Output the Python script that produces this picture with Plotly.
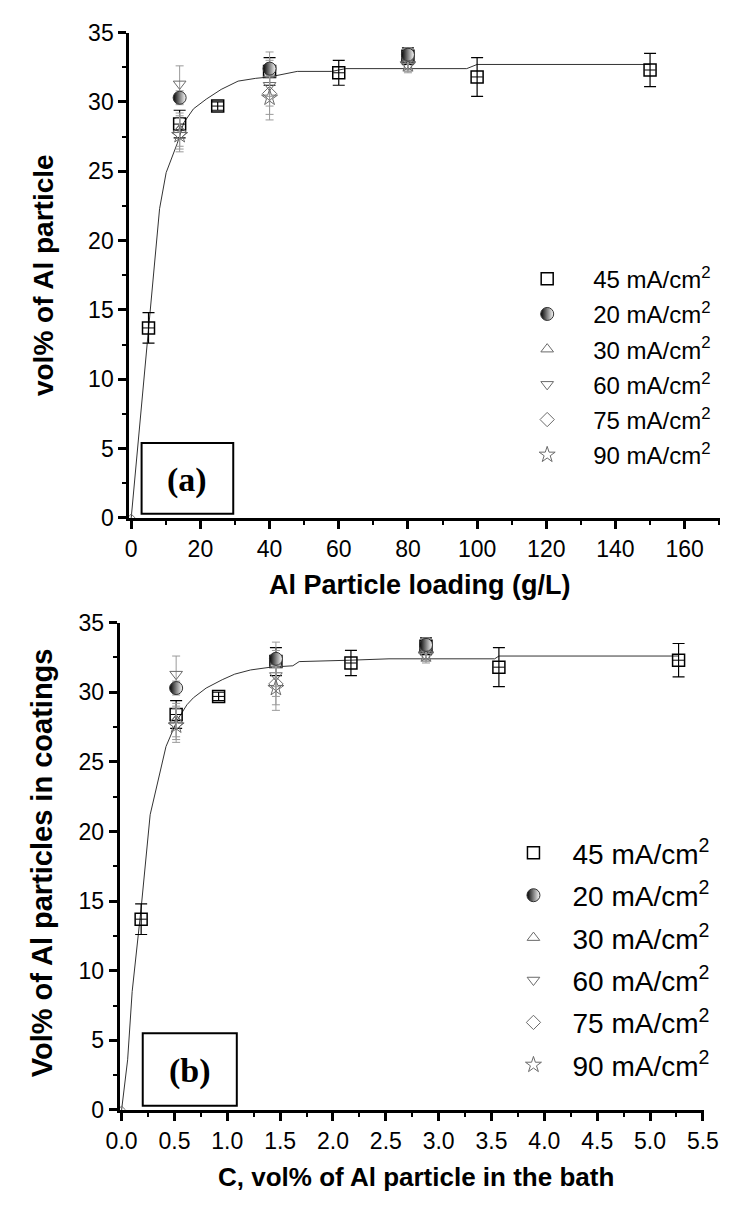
import plotly.graph_objects as go

# ---------------- data ----------------
loading_gl = [5, 14, 25, 40, 60, 80, 100, 150]             # g/L (panel a)
bath_vol = [0.185, 0.516, 0.918, 1.46, 2.17, 2.88, 3.57, 5.27]  # vol% (panel b)

y45 = [13.7, 28.4, 29.7, 32.2, 32.1, 33.3, 31.8, 32.3]
e45 = [1.1, 1.0, 0.3, 1.0, 0.9, 0.6, 1.4, 1.2]

sub_gl = [14, 40, 80]
sub_vol = [0.516, 1.46, 2.88]
y20 = [30.3, 32.4, 33.4]
e20 = [0.5, 0.6, 0.5]
y30 = [28.0, 32.0, 33.0]
e30 = [1.2, 1.6, 0.6]
y60 = [31.3, 31.2, 33.0]
e60 = [1.3, 1.5, 0.7]
y75 = [27.8, 30.6, 32.8]
e75 = [1.2, 1.5, 0.6]
y90 = [27.6, 30.3, 32.7]
e90 = [1.2, 1.6, 0.6]

fit_a_x = [0, 3.6, 5, 8.2, 10.1, 13.3, 15.2, 18, 21.7, 26, 30.9, 36, 40, 44, 48, 58, 62, 97, 100, 150]
fit_a_y = [0, 9.6, 13.5, 22.3, 24.9, 27.0, 28.5, 29.5, 30.2, 30.9, 31.5, 31.7, 31.8, 32.0, 32.2, 32.2, 32.4, 32.4, 32.7, 32.7]

fit_b_x = [0, 0.057, 0.1, 0.185, 0.27, 0.42, 0.527, 0.618, 0.679, 0.80, 0.952, 1.07, 1.22, 1.41, 1.62, 1.68, 2.16, 2.53, 3.53, 3.57, 5.27]
fit_b_y = [0, 3.6, 8.5, 14.5, 21.2, 26.1, 28.0, 29.1, 29.6, 30.3, 30.9, 31.3, 31.6, 31.8, 31.9, 32.2, 32.3, 32.4, 32.4, 32.6, 32.6]

origin_x = [0]
origin_y = [0]

series_names = ["45 mA/cm<sup>2</sup>", "20 mA/cm<sup>2</sup>", "30 mA/cm<sup>2</sup>",
                "60 mA/cm<sup>2</sup>", "75 mA/cm<sup>2</sup>", "90 mA/cm<sup>2</sup>"]

GRAY = "#6a6a6a"

fig = go.Figure()

def add_panel(xa, ya, legend, x45, xsub, fitx, fity, zero_x, tag):
    fig.add_trace(go.Scatter(x=fitx, y=fity, mode="lines", line=dict(color="#333", width=1),
                             xaxis=xa, yaxis=ya, showlegend=False, hoverinfo="skip"))
    fig.add_trace(go.Scatter(x=zero_x, y=origin_y, mode="markers",
                             marker=dict(symbol="diamond-open", size=6, color=GRAY, line=dict(width=1)),
                             xaxis=xa, yaxis=ya, showlegend=False))
    specs = [
        (y30, e30, dict(symbol="triangle-up-open", size=11, color=GRAY, line=dict(width=1, color=GRAY))),
        (y60, e60, dict(symbol="triangle-down-open", size=11, color=GRAY, line=dict(width=1, color=GRAY))),
        (y75, e75, dict(symbol="diamond-open", size=11, color=GRAY, line=dict(width=1, color=GRAY))),
        (y90, e90, dict(symbol="star-open", size=12, color=GRAY, line=dict(width=1, color=GRAY))),
    ]
    fig.add_trace(go.Scatter(x=x45, y=y45, mode="markers", name=series_names[0], legend=legend,
                             legendrank=1, legendgroup=tag + "45",
                             error_y=dict(type="data", array=e45, color="black", thickness=1.2, width=6),
                             marker=dict(symbol="square-open", size=12, color="black", line=dict(width=1.5)),
                             xaxis=xa, yaxis=ya))
    fig.add_trace(go.Scatter(x=x45, y=y45, mode="markers", showlegend=False,
                             marker=dict(symbol="line-ew", size=8, color="black", line=dict(width=1, color="black")),
                             xaxis=xa, yaxis=ya))
    for i, (yy, ee, mk) in enumerate(specs):
        fig.add_trace(go.Scatter(x=xsub, y=yy, mode="markers", name=series_names[i + 2], legend=legend,
                                 legendrank=i + 3, legendgroup=tag + str(i),
                                 error_y=dict(type="data", array=ee, color="#9a9a9a", thickness=1, width=4),
                                 marker=mk, xaxis=xa, yaxis=ya))
    fig.add_trace(go.Scatter(x=xsub, y=y20, mode="markers", name=series_names[1], legend=legend,
                             legendrank=2, legendgroup=tag + "20",
                             error_y=dict(type="data", array=e20, color="#9a9a9a", thickness=1, width=4),
                             marker=dict(symbol="circle", size=13, color="black",
                                         gradient=dict(type="horizontal", color="white"),
                                         line=dict(width=1, color="#333")),
                             xaxis=xa, yaxis=ya))

add_panel("x", "y", "legend", loading_gl, sub_gl, fit_a_x, fit_a_y, origin_x, "a")
add_panel("x2", "y2", "legend2", bath_vol, sub_vol, fit_b_x, fit_b_y, origin_x, "b")

W, H = 742, 1211
def px(v): return v / W
def py(v): return 1 - v / H

tickfont = dict(family="Liberation Sans, Arial", size=23, color="black")
axis_common = dict(showline=True, linecolor="black", linewidth=3, ticks="outside", ticklen=8,
                   tickwidth=3, tickcolor="black", showgrid=False, zeroline=False, tickfont=tickfont,
                   mirror=False)
minor_common = dict(ticks="outside", ticklen=4, tickwidth=2, tickcolor="black")

fig.update_layout(
    width=W, height=H, margin=dict(l=0, r=0, t=0, b=0),
    paper_bgcolor="white", plot_bgcolor="white",
    xaxis=dict(domain=[px(120), px(735)], range=[-0.55, 170.3], anchor="y", tickvals=list(range(0, 161, 20)),
               minor=dict(tickvals=list(range(10, 171, 20)), **minor_common), **axis_common),
    yaxis=dict(domain=[py(516), py(20)], range=[0, 35], anchor="x", tickvals=list(range(0, 36, 5)),
               minor=dict(tickvals=[2.5 + 5 * k for k in range(7)], **minor_common), **axis_common),
    xaxis2=dict(domain=[px(110), px(718)], range=[-0.018, 5.51], anchor="y2",
                tickvals=[0.5 * k for k in range(12)], ticktext=[f"{0.5*k:.1f}" for k in range(12)],
                minor=dict(tickvals=[0.25 + 0.5 * k for k in range(11)], **minor_common), **axis_common),
    yaxis2=dict(domain=[py(1121), py(623)], range=[0, 35], anchor="x2", tickvals=list(range(0, 36, 5)),
                minor=dict(tickvals=[2.5 + 5 * k for k in range(7)], **minor_common), **axis_common),
    legend=dict(x=px(507), y=py(249), xanchor="left", yanchor="top", bgcolor="rgba(0,0,0,0)",
                font=dict(family="Liberation Sans, Arial", size=24, color="black"),
                itemwidth=82, tracegroupgap=1, traceorder="grouped"),
    legend2=dict(x=px(500), y=py(833), xanchor="left", yanchor="top", bgcolor="rgba(0,0,0,0)",
                 font=dict(family="Liberation Sans, Arial", size=28, color="black"),
                 itemwidth=68, tracegroupgap=3, traceorder="grouped"),
    showlegend=True,
)

def title(text, x, y, size, angle=0):
    fig.add_annotation(text="<b>" + text + "</b>", x=px(x), y=py(y), xref="paper", yref="paper",
                       xanchor="center", yanchor="middle", showarrow=False, textangle=angle,
                       font=dict(family="Liberation Sans, Arial", size=size, color="black"))

title("Al Particle loading (g/L)", 422, 585, 27)
title("vol% of Al particle", 30, 268, 28, -90)
title("C, vol% of Al particle in the bath", 418, 1190, 26)
title("Vol% of Al particles in coatings", 30, 868, 29, -90)

# panel label boxes
fig.add_shape(type="rect", xref="x", yref="y", x0=3, x1=29.5, y0=0.3, y1=5.4, line=dict(color="black", width=2))
fig.add_annotation(text="<b>(a)</b>", x=16.2, y=2.7, xref="x", yref="y", showarrow=False,
                   xanchor="center", yanchor="middle",
                   font=dict(family="Liberation Serif, Times New Roman", size=34, color="black"))
fig.add_shape(type="rect", xref="x2", yref="y2", x0=0.2, x1=1.09, y0=0.3, y1=5.5, line=dict(color="black", width=2))
fig.add_annotation(text="<b>(b)</b>", x=0.645, y=2.8, xref="x2", yref="y2", showarrow=False,
                   xanchor="center", yanchor="middle",
                   font=dict(family="Liberation Serif, Times New Roman", size=34, color="black"))

fig.write_html("out.html")
